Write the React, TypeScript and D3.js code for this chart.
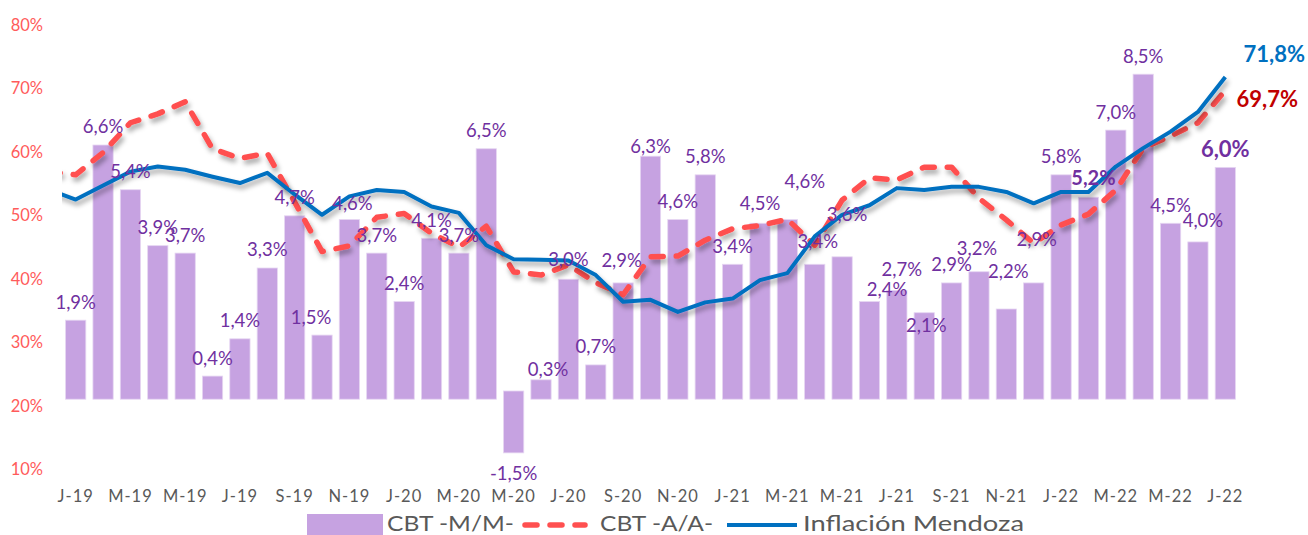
import React, { useEffect } from "react";
import * as d3 from "d3";

// ---------- DATA ----------
const months = [
  "Jan-19","Feb-19","Mar-19","Apr-19","May-19","Jun-19","Jul-19","Aug-19","Sep-19","Oct-19","Nov-19","Dec-19",
  "Jan-20","Feb-20","Mar-20","Apr-20","May-20","Jun-20","Jul-20","Aug-20","Sep-20","Oct-20","Nov-20","Dec-20",
  "Jan-21","Feb-21","Mar-21","Apr-21","May-21","Jun-21","Jul-21","Aug-21","Sep-21","Oct-21","Nov-21","Dec-21",
  "Jan-22","Feb-22","Mar-22","Apr-22","May-22","Jun-22","Jul-22",
];
// lines start one month earlier (clipped at the plot edge)
const lineMonths = ["Dec-18", ...months];

// CBT monthly variation (%)
const cbtMonthly = [
  1.9, 6.6, 5.4, 3.9, 3.7, 0.4, 1.4, 3.3, 4.7, 1.5, 4.6, 3.7,
  2.4, 4.1, 3.7, 6.5, -1.5, 0.3, 3.0, 0.7, 2.9, 6.3, 4.6, 5.8,
  3.4, 4.5, 4.6, 3.4, 3.6, 2.4, 2.7, 2.1, 2.9, 3.2, 2.2, 2.9,
  5.8, 5.2, 7.0, 8.5, 4.5, 4.0, 6.0,
];

// CBT year-on-year (%), Dec-18 .. Jul-22
const cbtYearly = [
  56.9,
  56.4, 59.9, 64.6, 66.0, 67.9, 60.5, 59.0, 59.8, 52.1, 44.3, 45.2, 49.7,
  50.3, 47.2, 45.0, 48.3, 41.1, 40.6, 42.2, 39.4, 37.5, 43.5, 43.6, 46.1,
  47.9, 48.4, 49.4, 45.3, 52.4, 55.9, 55.6, 57.6, 57.6, 52.7, 49.3, 45.6,
  48.5, 50.2, 54.0, 60.6, 62.5, 64.6, 69.7,
];

// Inflación Mendoza year-on-year (%), Dec-18 .. Jul-22
const inflationMendoza = [
  54.1,
  52.5, 54.7, 56.9, 57.7, 57.2, 56.1, 55.1, 56.7, 53.3, 50.1, 53.0, 54.0,
  53.7, 51.4, 50.4, 45.3, 43.1, 43.0, 42.9, 40.6, 36.4, 36.7, 34.8, 36.3,
  36.9, 39.8, 40.9, 46.7, 50.1, 51.6, 54.3, 54.0, 54.5, 54.5, 53.7, 51.9,
  53.7, 53.7, 57.7, 60.6, 63.2, 66.3, 71.8,
];

const leftTicks = [10, 20, 30, 40, 50, 60, 70, 80];

const legendItems = ["CBT -M/M-", "CBT -A/A-", "Inflación Mendoza"];

// ---------- LAYOUT (label nudges, px) ----------
const labelNudges: [number, number][] = [
  [0, 0], [0, 0], [0, 0], [0, 0], [0, 0], [0, 0], [0, 0], [0, 0], [0, 0], [-11, 0],
  [3, 2], [0, 0], [0, 0], [0, 0], [0, 0], [0, 0], [0, 3], [7, 8], [0, -2], [0, 0],
  [-1.5, -4], [0, 8], [0, 0], [0, 0], [0, 0], [0, -2], [17.5, -20], [3, -5], [5, -24], [17.5, 6],
  [5, -2.5], [2, 31], [0, 0], [-2, -5], [2, -19], [3, -25], [0, 0], [5, -1], [0, 0], [0, 0],
  [0, 0], [5, -3], [0, 0],
];
const boldIdx = [37, 42];
const legendTextWidths = [127, 113, 221];

const fmt = (v: number) =>
  d3.format(".1f")(v).replace(".", ",").replace("\u2212", "-") + "%";

const W = 1308;
const H = 535;
const FONT = "Lato, 'Open Sans', sans-serif";

export default function App() {
  useEffect(() => {
    document.body.style.margin = "0";
    document.body.style.overflow = "hidden";
  }, []);

  const x = d3
    .scaleBand<string>()
    .domain(months)
    .range([62, 1239])
    .paddingInner(0.26)
    .paddingOuter(0.13);
  const step = x.step();
  const cx = (m: string) => (x(m) as number) + x.bandwidth() / 2;

  const xl = d3
    .scalePoint<string>()
    .domain(lineMonths)
    .range([cx(months[0]) - step, cx(months[months.length - 1])]);

  const yL = d3.scaleLinear().domain([10, 80]).range([469.3, 25]);
  const yB = d3.scaleLinear().domain([0, 8.5]).range([391, 74.2]);
  const barFloor = yB(-0.22);

  const line = d3
    .line<number>()
    .x((_, i) => xl(lineMonths[i]) as number)
    .y((d) => yL(d));

  const lastX = xl(lineMonths[lineMonths.length - 1]) as number;
  const lastBlue = yL(inflationMendoza[inflationMendoza.length - 1]);
  const lastRed = yL(cbtYearly[cbtYearly.length - 1]);

  const barColor = "#C6A2E1";
  const purple = "#7030A0";
  const red = "#FF5050";
  const blue = "#0070C0";
  const gray = "#595959";

  return (
    <svg
      width={W}
      height={H}
      style={{ position: "absolute", left: 0, top: 0, background: "#fff" }}
      fontFamily={FONT}
    >
      <defs>
        <clipPath id="plotClip">
          <rect x={62} y={0} width={1240} height={H} />
        </clipPath>
        <filter id="shadow" x="-5%" y="-20%" width="110%" height="140%">
          <feDropShadow dx="2" dy="4" stdDeviation="2.5" floodColor="#000" floodOpacity="0.35" />
        </filter>
      </defs>

      {/* left axis labels */}
      {leftTicks.map((t) => (
        <text
          key={t}
          x={43}
          y={yL(t)}
          dy="0.35em"
          textAnchor="end"
          fontSize={16.5}
          fill="#FF5B5B"
        >
          {t}%
        </text>
      ))}

      {/* bars */}
      {months.map((m, i) => {
        const v = cbtMonthly[i];
        const top = v >= 0 ? yB(v) : yB(0);
        const bottom = v >= 0 ? barFloor : yB(v - 0.16);
        return (
          <rect
            key={m}
            x={x(m)}
            y={top}
            width={x.bandwidth()}
            height={bottom - top}
            fill={barColor}
            stroke="#E6D6F2"
            strokeWidth={0.8}
          />
        );
      })}

      {/* lines */}
      <g clipPath="url(#plotClip)">
        <path
          d={line(cbtYearly) as string}
          fill="none"
          stroke={red}
          strokeWidth={5.5}
          strokeDasharray="12 13"
          strokeLinecap="round"
          strokeLinejoin="round"
          filter="url(#shadow)"
        />
        <path
          d={line(inflationMendoza) as string}
          fill="none"
          stroke={blue}
          strokeWidth={4}
          strokeLinejoin="round"
          filter="url(#shadow)"
        />
      </g>

      {/* bar labels */}
      {months.map((m, i) => {
        const v = cbtMonthly[i];
        const [dx, dy] = labelNudges[i];
        const bold = boldIdx.includes(i);
        const baseY = v >= 0 ? yB(v) - 18 : yB(v) + 24;
        return (
          <text
            key={"l" + m}
            x={cx(m) + dx}
            y={baseY + dy}
            dy="0.35em"
            textAnchor="middle"
            fontSize={i === 42 ? 22 : bold ? 20 : 18.5}
            fontWeight={bold ? 700 : 400}
            fill={purple}
          >
            {fmt(v)}
          </text>
        );
      })}

      {/* end labels */}
      <text x={lastX + 49} y={lastBlue - 23} dy="0.35em" textAnchor="middle" fontSize={22} fontWeight={700} fill={blue}>
        {fmt(inflationMendoza[inflationMendoza.length - 1])}
      </text>
      <text x={lastX + 42} y={lastRed + 9} dy="0.35em" textAnchor="middle" fontSize={22} fontWeight={700} fill="#C00000">
        {fmt(cbtYearly[cbtYearly.length - 1])}
      </text>

      {/* x axis labels */}
      {months.map((m, i) =>
        i % 2 === 0 ? (
          <text
            key={"x" + m}
            x={cx(m)}
            y={496}
            dy="0.35em"
            textAnchor="middle"
            fontSize={16.5}
            letterSpacing={1}
            fill={gray}
          >
            {m[0] + m.slice(3)}
          </text>
        ) : null
      )}

      {/* legend */}
      <g fontSize={22} fill={gray}>
        <rect x={307} y={514} width={76} height={30} fill={barColor} />
        <text x={387} y={524} dy="0.33em" textLength={legendTextWidths[0]} lengthAdjust="spacingAndGlyphs">
          {legendItems[0]}
        </text>
        <line x1={525} x2={585} y1={525} y2={525} stroke={red} strokeWidth={5.5} strokeDasharray="12 13" strokeLinecap="round" />
        <text x={600} y={524} dy="0.33em" textLength={legendTextWidths[1]} lengthAdjust="spacingAndGlyphs">
          {legendItems[1]}
        </text>
        <line x1={727} x2={797} y1={525} y2={525} stroke={blue} strokeWidth={4} />
        <text x={803} y={524} dy="0.33em" textLength={legendTextWidths[2]} lengthAdjust="spacingAndGlyphs">
          {legendItems[2]}
        </text>
      </g>
    </svg>
  );
}
